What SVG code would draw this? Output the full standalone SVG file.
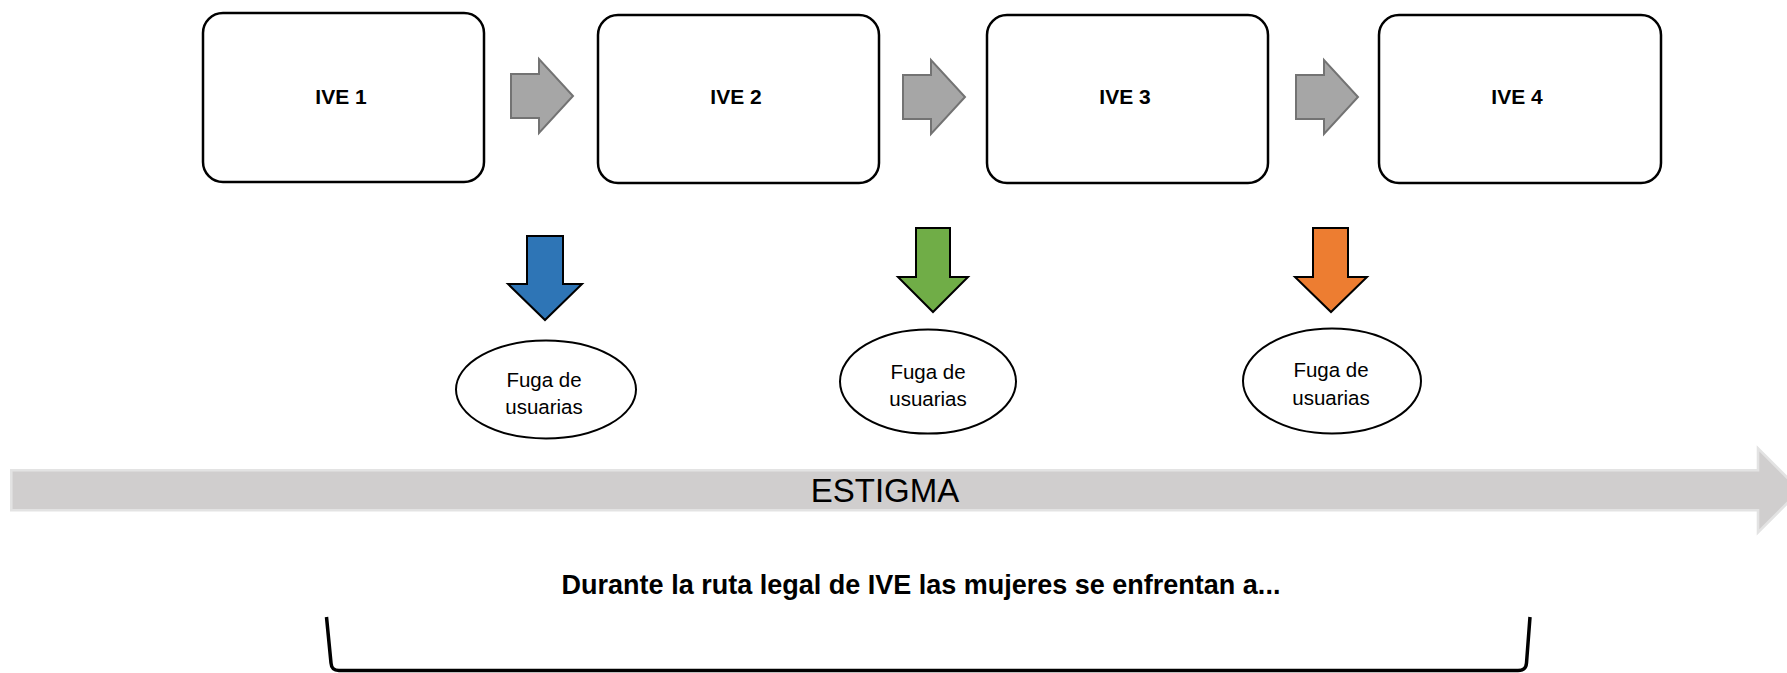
<svg xmlns="http://www.w3.org/2000/svg" width="1787" height="673" viewBox="0 0 1787 673">
<style>
.box{fill:#ffffff;stroke:#000000;stroke-width:2.5}
.boxlabel{font-family:"Liberation Sans",Arial,sans-serif;font-weight:bold;font-size:21px;fill:#000000;text-anchor:middle}
.ell{fill:#ffffff;stroke:#000000;stroke-width:2}
.elllabel{font-family:"Liberation Sans",Arial,sans-serif;font-size:20.5px;fill:#000000;text-anchor:middle}
.grayarrow{fill:#a6a6a6;stroke:#737373;stroke-width:2;stroke-linejoin:miter}
.downarrow{stroke:#000000;stroke-width:2;stroke-linejoin:miter}
</style>
<rect width="1787" height="673" fill="#ffffff"/>

<g id="ive1">
<rect class="box" x="203" y="13" width="281" height="169" rx="20" ry="20"/>
<text class="boxlabel" x="341" y="104">IVE 1</text>
</g>
<g id="ive2">
<rect class="box" x="598" y="15" width="281" height="168" rx="20" ry="20"/>
<text class="boxlabel" x="736" y="104">IVE 2</text>
</g>
<g id="ive3">
<rect class="box" x="987" y="15" width="281" height="168" rx="20" ry="20"/>
<text class="boxlabel" x="1125" y="104">IVE 3</text>
</g>
<g id="ive4">
<rect class="box" x="1379" y="15" width="282" height="168" rx="20" ry="20"/>
<text class="boxlabel" x="1517" y="104">IVE 4</text>
</g>

<g id="connectors">
<path class="grayarrow" d="M511,74 H539 V59 L573,96 L539,133 V118 H511 Z"/>
<path class="grayarrow" d="M903,75 H931 V60 L965,97 L931,134 V119 H903 Z"/>
<path class="grayarrow" d="M1296,75 H1324 V60 L1358,97 L1324,134 V119 H1296 Z"/>
<path class="downarrow" fill="#2e75b6" d="M527,236 H563 V284 H582 L545,320 L508,284 H527 Z"/>
<path class="downarrow" fill="#70ad47" d="M916,228 H950 V277 H968 L933,312 L898,277 H916 Z"/>
<path class="downarrow" fill="#ed7d31" d="M1313,228 H1348 V277 H1367 L1331,312 L1295,277 H1313 Z"/>
</g>

<g id="fuga1">
<ellipse class="ell" cx="546" cy="389.5" rx="90" ry="49"/>
<text class="elllabel" x="544" y="386.5">Fuga de</text>
<text class="elllabel" x="544" y="414">usuarias</text>
</g>
<g id="fuga2">
<ellipse class="ell" cx="928" cy="381.5" rx="88" ry="52"/>
<text class="elllabel" x="928" y="378.5">Fuga de</text>
<text class="elllabel" x="928" y="405.5">usuarias</text>
</g>
<g id="fuga3">
<ellipse class="ell" cx="1332" cy="381" rx="89" ry="52.5"/>
<text class="elllabel" x="1331" y="377">Fuga de</text>
<text class="elllabel" x="1331" y="405">usuarias</text>
</g>

<g id="estigma">
<path d="M11.3,470.3 H1758 V448.3 L1800,490.3 L1758,532.3 V510.3 H11.3 Z" fill="#d0cece" stroke="#e3e3e3" stroke-width="2.6"/>
<text x="885" y="502" font-family="'Liberation Sans',Arial,sans-serif" font-size="33" fill="#000000" text-anchor="middle">ESTIGMA</text>
</g>

<g id="caption">
<text x="921" y="594" font-family="'Liberation Sans',Arial,sans-serif" font-weight="bold" font-size="27" fill="#000000" text-anchor="middle">Durante la ruta legal de IVE las mujeres se enfrentan a...</text>
</g>

<g id="bracket">
<path d="M326.5,617 L331,663 Q331.5,670.5 339,670.5 H1518 Q1526,670.5 1526.5,663 L1530,617" fill="none" stroke="#000000" stroke-width="3.5"/>
</g>
</svg>
